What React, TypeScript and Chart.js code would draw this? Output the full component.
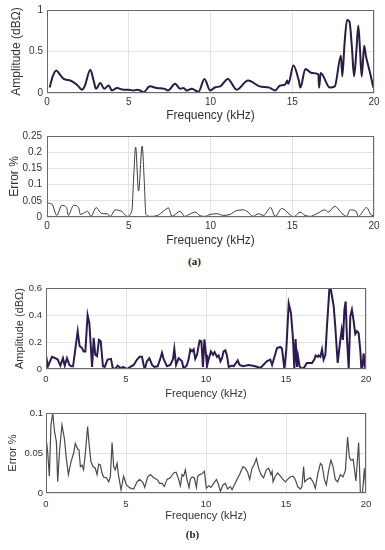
import React, { useEffect, useRef } from 'react';
import { Chart, registerables } from 'chart.js';
Chart.register(...registerables);

// ---------- data ----------
const xTickStep = 5;

const ampAFreq = [0.16, 0.35, 0.57, 0.8, 1.02, 1.43, 1.83, 2.14, 2.3, 2.65, 2.85, 3.0, 3.26, 3.5, 3.77, 3.97, 4.28, 4.68, 5.0, 5.3, 5.5, 5.7, 5.9, 6.3, 6.7, 7.2, 7.4, 7.84, 8.15, 8.35, 8.55, 8.86, 9.27, 9.63, 9.98, 10.3, 10.6, 11.06, 11.6, 12.3, 13.0, 13.6, 13.95, 14.26, 14.56, 14.7, 14.76, 15.07, 15.4, 15.5, 15.8, 16.2, 16.6, 16.64, 16.74, 17.3, 17.6, 17.98, 18.06, 18.2, 18.35, 18.5, 18.65, 18.78, 18.92, 19.04, 19.15, 19.25, 19.4, 19.5, 19.75, 19.96];
const ampAValues = [0.065, 0.2, 0.27, 0.22, 0.17, 0.15, 0.1, 0.04, 0.08, 0.28, 0.15, 0.05, 0.12, 0.05, 0.09, 0.03, 0.06, 0.04, 0.04, 0.03, 0.04, 0.03, 0.01, 0.08, 0.06, 0.05, 0.03, 0.11, 0.05, 0.06, 0.03, 0.05, 0.015, 0.17, 0.03, 0.07, 0.08, 0.17, 0.04, 0.15, 0.08, 0.065, 0.03, 0.09, 0.1, 0.15, 0.11, 0.33, 0.15, 0.065, 0.29, 0.24, 0.225, 0.065, 0.24, 0.065, 0.08, 0.45, 0.2, 0.6, 0.88, 0.86, 0.55, 0.2, 0.5, 0.81, 0.5, 0.2, 0.57, 0.45, 0.25, 0.065];

const errAFreq = [0, 0.3, 0.6, 0.9, 1.2, 1.3, 1.63, 1.93, 2.04, 2.24, 2.48, 2.69, 3.01, 3.26, 3.46, 3.67, 3.87, 4.17, 4.58, 4.89, 5.19, 5.3, 5.42, 5.6, 5.82, 5.95, 6.05, 6.31, 6.72, 7.13, 7.43, 7.64, 8.15, 8.41, 8.66, 9.06, 9.37, 9.67, 9.98, 10.4, 10.8, 11.2, 11.6, 12.0, 12.3, 12.6, 12.93, 13.24, 13.68, 13.95, 14.36, 14.87, 15.07, 15.48, 15.78, 16.1, 16.5, 17.0, 17.2, 17.6, 18.02, 18.33, 18.53, 18.9, 19.04, 19.55, 19.86, 20];
const errAValues = [0.043, 0.04, 0.005, 0.036, 0.029, 0.005, 0.036, 0.029, 0.008, 0.012, 0.018, 0.002, 0.029, 0.014, 0.01, 0.01, 0.002, 0.022, 0.017, 0.002, 0.02, 0.12, 0.216, 0.08, 0.219, 0.11, 0.008, 0.002, 0.004, 0.018, 0.028, 0.002, 0.018, 0.002, 0.007, 0.015, 0.004, 0.002, 0.008, 0.01, 0.005, 0.008, 0.02, 0.022, 0.015, 0.002, 0.01, 0.005, 0.029, 0.002, 0.026, 0.007, 0.0, 0.015, 0.005, 0.002, 0.01, 0.022, 0.015, 0.033, 0.012, 0.002, 0.022, 0.018, 0.002, 0.029, 0.005, 0.005];

const ampBFreq = [0, 0.12, 0.37, 0.58, 0.73, 0.9, 1.06, 1.17, 1.31, 1.46, 1.58, 1.69, 1.77, 1.98, 2.1, 2.25, 2.35, 2.46, 2.6, 2.71, 2.88, 2.98, 3.08, 3.19, 3.31, 3.42, 3.56, 3.67, 3.85, 4.06, 4.17, 4.33, 4.48, 4.65, 4.85, 5.06, 5.27, 5.48, 5.69, 5.85, 6.0, 6.1, 6.17, 6.31, 6.46, 6.63, 6.77, 6.98, 7.15, 7.25, 7.35, 7.56, 7.77, 7.94, 8.02, 8.13, 8.29, 8.5, 8.6, 8.81, 8.92, 9.02, 9.13, 9.23, 9.33, 9.44, 9.6, 9.71, 9.81, 9.9, 10.0, 10.06, 10.17, 10.31, 10.44, 10.54, 10.69, 10.79, 10.9, 11.0, 11.1, 11.21, 11.31, 11.42, 11.63, 11.73, 11.88, 11.98, 12.1, 12.31, 12.67, 13.08, 13.4, 13.8, 14.02, 14.13, 14.23, 14.44, 14.65, 14.75, 14.9, 15.02, 15.17, 15.31, 15.44, 15.52, 15.6, 15.69, 15.75, 15.85, 16.0, 16.15, 16.31, 16.63, 16.77, 16.85, 16.98, 17.04, 17.15, 17.25, 17.35, 17.46, 17.56, 17.71, 17.81, 17.98, 18.08, 18.23, 18.4, 18.48, 18.56, 18.65, 18.73, 18.81, 18.92, 19.02, 19.12, 19.23, 19.33, 19.44, 19.54, 19.65, 19.71, 19.79, 19.85, 19.96];
const ampBValues = [0.1, 0.02, 0.09, 0.08, 0.07, 0.025, 0.08, 0.025, 0.08, 0.03, 0.02, 0.02, 0.09, 0.28, 0.17, 0.155, 0.13, 0.13, 0.4, 0.34, 0.015, 0.23, 0.105, 0.095, 0.215, 0.205, 0.02, 0.015, 0.07, 0.075, 0.007, 0.0, 0.025, 0.007, 0.015, 0.0, 0.015, 0.03, 0.07, 0.09, 0.09, 0.03, 0.0, 0.057, 0.08, 0.03, 0.015, 0.02, 0.08, 0.12, 0.075, 0.02, 0.03, 0.075, 0.15, 0.03, 0.08, 0.057, 0.0, 0.03, 0.075, 0.145, 0.13, 0.145, 0.075, 0.105, 0.21, 0.205, 0.015, 0.22, 0.105, 0.02, 0.075, 0.13, 0.105, 0.125, 0.09, 0.1, 0.057, 0.08, 0.13, 0.138, 0.1, 0.015, 0.025, 0.02, 0.045, 0.064, 0.03, 0.02, 0.03, 0.02, 0.007, 0.057, 0.07, 0.03, 0.07, 0.155, 0.163, 0.15, 0.0, 0.145, 0.485, 0.415, 0.22, 0.0, 0.222, 0.015, 0.095, 0.02, 0.0, 0.015, 0.045, 0.045, 0.07, 0.1, 0.09, 0.1, 0.09, 0.145, 0.07, 0.105, 0.315, 0.59, 0.585, 0.465, 0.315, 0.045, 0.22, 0.29, 0.215, 0.44, 0.5, 0.23, 0.0, 0.39, 0.44, 0.355, 0.26, 0.28, 0.265, 0.13, 0.0, 0.02, 0.115, 0.0];

const errBFreq = [0, 0.1, 0.21, 0.31, 0.42, 0.54, 0.65, 0.73, 0.85, 1.0, 1.15, 1.27, 1.4, 1.56, 1.73, 1.83, 1.98, 2.06, 2.15, 2.25, 2.35, 2.46, 2.6, 2.71, 2.81, 2.94, 3.08, 3.19, 3.29, 3.4, 3.5, 3.6, 3.77, 3.92, 4.02, 4.13, 4.23, 4.33, 4.44, 4.54, 4.69, 4.85, 5.02, 5.27, 5.48, 5.69, 5.85, 6.06, 6.17, 6.35, 6.52, 6.73, 6.94, 7.1, 7.25, 7.4, 7.56, 7.77, 7.98, 8.13, 8.29, 8.4, 8.5, 8.6, 8.71, 8.81, 8.94, 9.02, 9.13, 9.27, 9.4, 9.48, 9.6, 9.75, 9.9, 10.02, 10.17, 10.31, 10.48, 10.65, 10.79, 10.9, 11.06, 11.21, 11.35, 11.52, 11.63, 11.77, 11.94, 12.1, 12.31, 12.46, 12.6, 12.73, 12.88, 13.02, 13.15, 13.29, 13.44, 13.6, 13.77, 13.92, 14.06, 14.13, 14.19, 14.33, 14.48, 14.65, 14.81, 14.96, 15.1, 15.27, 15.44, 15.58, 15.73, 15.9, 16.0, 16.1, 16.17, 16.31, 16.52, 16.69, 16.83, 16.98, 17.15, 17.25, 17.4, 17.52, 17.67, 17.81, 17.94, 18.08, 18.23, 18.4, 18.56, 18.71, 18.85, 18.96, 19.06, 19.2, 19.37, 19.54, 19.65, 19.78, 19.9, 20];
const errBValues = [0.07, 0.052, 0.021, 0.085, 0.1, 0.076, 0.064, 0.014, 0.054, 0.085, 0.068, 0.043, 0.023, 0.039, 0.05, 0.062, 0.055, 0.054, 0.033, 0.035, 0.029, 0.05, 0.083, 0.058, 0.039, 0.033, 0.031, 0.023, 0.036, 0.035, 0.025, 0.02, 0.019, 0.014, 0.02, 0.063, 0.033, 0.029, 0.037, 0.021, 0.004, 0.021, 0.01, 0.006, 0.005, 0.014, 0.017, 0.013, 0.007, 0.02, 0.023, 0.019, 0.017, 0.012, 0.012, 0.008, 0.017, 0.019, 0.025, 0.026, 0.017, 0.009, 0.023, 0.021, 0.029, 0.017, 0.007, 0.017, 0.02, 0.019, 0.007, 0.021, 0.023, 0.024, 0.027, 0.006, 0.009, 0.007, 0.012, 0.017, 0.01, 0.002, 0.01, 0.012, 0.005, 0.008, 0.004, 0.01, 0.017, 0.023, 0.033, 0.031, 0.026, 0.017, 0.031, 0.036, 0.043, 0.031, 0.023, 0.019, 0.029, 0.031, 0.023, 0.027, 0.014, 0.021, 0.025, 0.021, 0.017, 0.014, 0.017, 0.02, 0.021, 0.017, 0.008, 0.005, 0.008, 0.033, 0.014, 0.017, 0.019, 0.014, 0.006, 0.023, 0.037, 0.035, 0.017, 0.01, 0.029, 0.041, 0.033, 0.017, 0.014, 0.023, 0.02, 0.028, 0.07, 0.045, 0.041, 0.042, 0.015, 0.063, 0.0, 0.0, 0.031, 0.0];

const FONT = "'Liberation Sans', Arial, Helvetica, sans-serif";

const boxPlugin = {
  id: 'matlabBox',
  afterDatasetsDraw(chart: any) {
    const { ctx, chartArea } = chart;
    const { left, top, right, bottom } = chartArea;
    ctx.save();
    ctx.strokeStyle = '#6a6a6a';
    ctx.lineWidth = 1;
    ctx.strokeRect(Math.round(left) + 0.5, Math.round(top) + 0.5, Math.round(right - left) - 1, Math.round(bottom - top) - 1);
    ctx.restore();
  },
};

const fmt = (v: any) => String(parseFloat(Number(v).toFixed(4)));

type Panel = {
  top: number; height: number; padTop: number; padRight: number; yWidth: number; xHeight: number;
  xs: number[]; ys: number[]; color: string; lineWidth: number; smooth: boolean;
  yMax: number; yStep: number; tickSize: number; titleSize: number; yTitle: string;
  xTickPad: number; yTickPad: number; xTitlePadBottom: number; yTitlePadTop: number;
};

function PanelChart({ p }: { p: Panel }) {
  const ref = useRef<HTMLCanvasElement>(null);
  useEffect(() => {
    if (!ref.current) return;
    const data = p.xs.map((x, i) => ({ x, y: p.ys[i] }));
    const chart = new Chart(ref.current, {
      type: 'line',
      data: {
        datasets: [{
          data,
          borderColor: p.color,
          borderWidth: p.lineWidth,
          pointRadius: 0,
          fill: false,
          cubicInterpolationMode: p.smooth ? 'monotone' : 'default',
          tension: 0,
        } as any],
      },
      options: {
        animation: false,
        responsive: false,
        devicePixelRatio: 1,
        layout: { padding: { top: p.padTop, right: p.padRight, left: 0, bottom: 0 } },
        plugins: { legend: { display: false }, tooltip: { enabled: false } },
        scales: {
          x: {
            type: 'linear', min: 0, max: 20,
            afterFit: (s: any) => { s.height = p.xHeight; },
            ticks: { stepSize: xTickStep, padding: p.xTickPad, color: '#333', font: { family: FONT, size: p.tickSize }, maxRotation: 0, callback: fmt },
            grid: { color: '#e2e2e2', drawTicks: false },
            border: { display: false },
            title: { display: true, text: 'Frequency (kHz)', color: '#333', font: { family: FONT, size: p.titleSize }, padding: { top: 0, bottom: p.xTitlePadBottom } },
          },
          y: {
            type: 'linear', min: 0, max: p.yMax,
            afterFit: (s: any) => { s.width = p.yWidth; },
            ticks: { stepSize: p.yStep, padding: p.yTickPad, color: '#333', font: { family: FONT, size: p.tickSize }, callback: fmt },
            grid: { color: '#e2e2e2', drawTicks: false },
            border: { display: false },
            title: { display: true, text: p.yTitle, color: '#333', font: { family: FONT, size: p.titleSize }, padding: { top: p.yTitlePadTop, bottom: 0 } },
          },
        },
      },
      plugins: [boxPlugin],
    });
    return () => chart.destroy();
  }, []);
  return (
    <canvas ref={ref} width={385} height={p.height}
      style={{ position: 'absolute', left: 0, top: p.top, width: 385, height: p.height }} />
  );
}

const panels: Panel[] = [
  { top: 0, height: 125, padTop: 10, padRight: 11, yWidth: 47, xHeight: 32, xs: ampAFreq, ys: ampAValues, color: '#2a1a47', lineWidth: 2, smooth: true, yMax: 1, yStep: 0.5, tickSize: 10, titleSize: 12, yTitle: 'Amplitude (dB\u03A9)', xTickPad: 3, yTickPad: 4, xTitlePadBottom: 2, yTitlePadTop: 9 },
  { top: 125, height: 125, padTop: 10, padRight: 11, yWidth: 47, xHeight: 33, xs: errAFreq, ys: errAValues, color: '#3a3a3a', lineWidth: 1, smooth: true, yMax: 0.25, yStep: 0.05, tickSize: 10, titleSize: 12, yTitle: 'Error %', xTickPad: 3, yTickPad: 5, xTitlePadBottom: 2, yTitlePadTop: 7 },
  { top: 270, height: 135, padTop: 18, padRight: 19, yWidth: 46, xHeight: 36, xs: ampBFreq, ys: ampBValues, color: '#2d1a50', lineWidth: 2, smooth: false, yMax: 0.6, yStep: 0.2, tickSize: 9.5, titleSize: 11, yTitle: 'Amplitude (dB\u03A9)', xTickPad: 5, yTickPad: 4, xTitlePadBottom: 4, yTitlePadTop: 13 },
  { top: 398, height: 130, padTop: 15, padRight: 19, yWidth: 46, xHeight: 35, xs: errBFreq, ys: errBValues, color: '#4a4a4a', lineWidth: 1.2, smooth: false, yMax: 0.1, yStep: 0.05, tickSize: 9.5, titleSize: 11, yTitle: 'Error %', xTickPad: 6, yTickPad: 3, xTitlePadBottom: 5, yTitlePadTop: 6 },
];

export default function App() {
  return (
    <div style={{ position: 'absolute', left: 0, top: 0, width: 385, height: 550, background: '#fff', overflow: 'hidden' }}>
      {panels.map((p, i) => <PanelChart key={i} p={p} />)}
      <div style={{ position: 'absolute', left: 0, width: 385, top: 255, textAlign: 'center', fontFamily: "'Liberation Serif', 'Times New Roman', serif", fontWeight: 'bold', fontSize: 11, color: '#222', paddingLeft: 2 }}>(a)</div>
      <div style={{ position: 'absolute', left: 0, width: 385, top: 528, textAlign: 'center', fontFamily: "'Liberation Serif', 'Times New Roman', serif", fontWeight: 'bold', fontSize: 11, color: '#222' }}>(b)</div>
    </div>
  );
}
